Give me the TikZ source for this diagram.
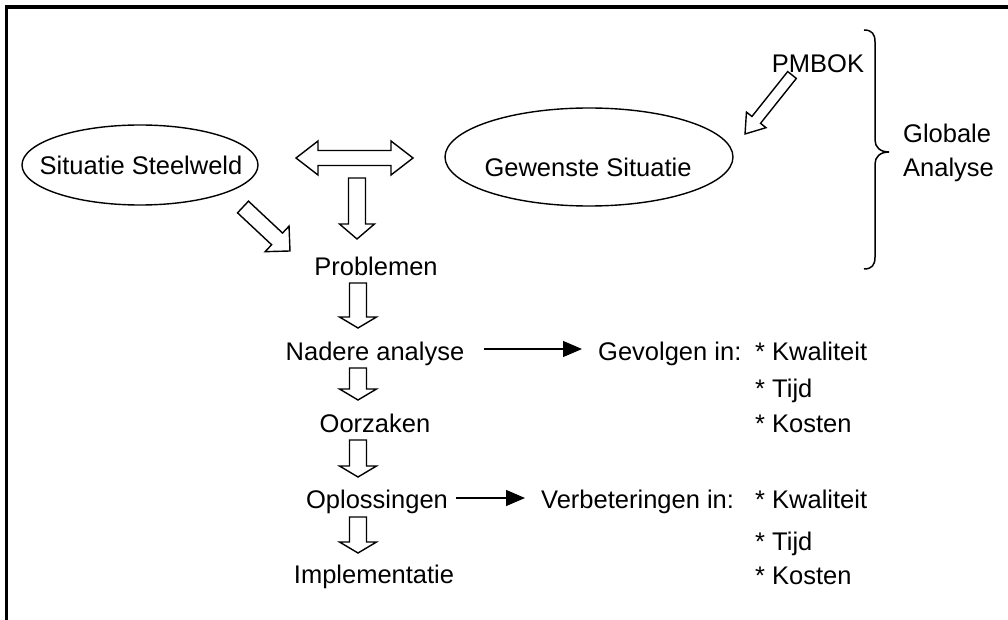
\documentclass[tikz,border=0pt]{standalone}
\usepackage{fontspec}
\setmainfont{Liberation Sans}
\usetikzlibrary{shapes.geometric,arrows.meta,calc}

\tikzset{
  txt/.style={font=\fontsize{25.5}{30}\selectfont, inner sep=0pt, anchor=base},
  item/.style={txt, anchor=base west},
  oval/.style={draw, ellipse, line width=1.4pt, inner sep=0pt},
  blockline/.style={draw, line width=1.4pt, line join=miter, fill=white},
  pointer/.style={line width=1.3pt, -{Triangle[length=19pt,width=16pt]}},
  frameline/.style={line width=3.2pt},
  bracestyle/.style={line width=1.5pt}
}

% hollow block arrow: tail, tip, shaft half width, head half width, head length
\newcommand{\blockarrow}[5]{%
  \draw[blockline] let \p1=(#1), \p2=(#2),
      \n1={atan2(\y2-\y1,\x2-\x1)},
      \n2={veclen(\x2-\x1,\y2-\y1)} in
    [shift={(\p1)}, rotate=\n1]
    (0,-#3) -- (\n2-#5,-#3) -- (\n2-#5,-#4) -- (\n2,0)
    -- (\n2-#5,#4) -- (\n2-#5,#3) -- (0,#3) -- cycle;}

% hollow block arrow with a head at both ends
\newcommand{\twowayarrow}[5]{%
  \draw[blockline] let \p1=(#1), \p2=(#2),
      \n1={atan2(\y2-\y1,\x2-\x1)},
      \n2={veclen(\x2-\x1,\y2-\y1)} in
    [shift={(\p1)}, rotate=\n1]
    (0,0) -- (#5,-#4) -- (#5,-#3) -- (\n2-#5,-#3) -- (\n2-#5,-#4) -- (\n2,0)
    -- (\n2-#5,#4) -- (\n2-#5,#3) -- (#5,#3) -- (#5,#4) -- cycle;}

\begin{document}
\begin{tikzpicture}[x=1pt,y=-1pt]
\useasboundingbox (0,0) rectangle (1008,620);
\fill[white] (0,0) rectangle (1008,620);

% frame edges
\draw[frameline] (5,7) -- (1008,7);
\draw[frameline] (6.5,5.4) -- (6.5,620);

% the two situations
\node[oval, minimum width=236pt, minimum height=80pt] (sit) at (140,165) {};
\node[txt, anchor=center] (sittxt) at (141,165) {Situatie Steelweld};
\node[oval, minimum width=288pt, minimum height=98pt] (gew) at (589,157) {};
\node[txt, anchor=center] (gewtxt) at (588,167) {Gewenste Situatie};

% PMBOK input
\node[txt] (pmbok) at (818,73) {PMBOK};
\coordinate (pm1) at (792,75);
\coordinate (pm2) at (745,134);
\blockarrow{pm1}{pm2}{5.5}{12.5}{18}

% brace with label
\draw[bracestyle] (864,30) .. controls (872,30) and (875,34) .. (875,42)
  -- (875,140) .. controls (875,147) and (880,152) .. (889,152)
  .. controls (880,152) and (875,157) .. (875,164)
  -- (875,257) .. controls (875,265) and (872,269) .. (864,269);
\node[txt, anchor=west, align=left, font=\fontsize{25.5}{34}\selectfont] (glob) at (903,153) {Globale\\Analyse};

% comparison between the two situations
\coordinate (cmpL) at (296,158);
\coordinate (cmpR) at (413,158);
\twowayarrow{cmpL}{cmpR}{7.5}{17}{22}

% main flow
\node[txt] (prob) at (376,275) {Problemen};
\node[txt] (nad)  at (375,360) {Nadere analyse};
\node[txt] (oorz) at (375,432) {Oorzaken};
\node[txt] (opl)  at (377,508) {Oplossingen};
\node[txt] (impl) at (374,583) {Implementatie};

\coordinate (a1) at (357,178); \coordinate (a2) at (357,239);
\blockarrow{a1}{a2}{8.5}{17.5}{15}
\coordinate (d1) at (243,207); \coordinate (d2) at (290,251);
\blockarrow{d1}{d2}{8}{17.5}{17.7}
\coordinate (b1) at (358,283); \coordinate (b2) at (358,328);
\blockarrow{b1}{b2}{8.5}{18.5}{11}
\coordinate (c1) at (358,368); \coordinate (c2) at (358,400);
\blockarrow{c1}{c2}{8.5}{18.5}{11}
\coordinate (e1) at (358,440); \coordinate (e2) at (358,477);
\blockarrow{e1}{e2}{8.5}{18.5}{11}
\coordinate (f1) at (358,517); \coordinate (f2) at (358,553);
\blockarrow{f1}{f2}{8.5}{18.5}{11}

% consequences
\node[item] (gev) at (598,360) {Gevolgen in:};
\node[item] (gk1) at (755,360) {* Kwaliteit};
\node[item] (gt1) at (755,397) {* Tijd};
\node[item] (gc1) at (755,432) {* Kosten};
\draw[pointer] ($(nad.base east)+(19,-11)$) -- ($(gev.base west)+(-16,-11)$);

% improvements
\node[item] (verb) at (541,508) {Verbeteringen in:};
\node[item] (vk1) at (755,508) {* Kwaliteit};
\node[item] (vt1) at (755,550) {* Tijd};
\node[item] (vc1) at (755,584) {* Kosten};
\draw[pointer] ($(opl.base east)+(8,-10)$) -- ($(verb.base west)+(-16,-10)$);
\end{tikzpicture}
\end{document}
